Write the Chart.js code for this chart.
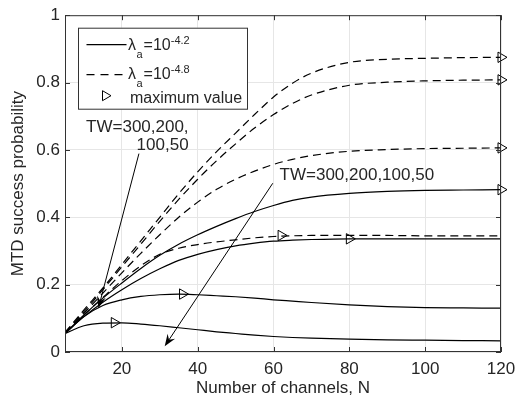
<!DOCTYPE html>
<html>
<head>
<meta charset="utf-8">
<script src="https://cdn.jsdelivr.net/npm/chart.js@4.4.1/dist/chart.umd.min.js"></script>
<style>
  html, body { margin: 0; padding: 0; background: #fff; }
</style>
</head>
<body>
<canvas id="c" width="525" height="402"></canvas>
<script>
// Data: MTD success probability vs number of channels
const nChannels = [5, 10, 15, 20, 25, 30, 35, 40, 45, 50, 55, 60, 65, 70, 80, 90, 100, 110, 120];

// lambda_a = 10^-4.8 (dashed), TW = 300, 200, 100, 50
const dashed300 = [0.058, 0.125, 0.19, 0.26, 0.33, 0.40, 0.47, 0.535, 0.595, 0.65, 0.705, 0.757, 0.798, 0.828, 0.86, 0.869, 0.872, 0.874, 0.875];
const dashed200 = [0.058, 0.12, 0.185, 0.253, 0.32, 0.388, 0.453, 0.513, 0.568, 0.618, 0.665, 0.705, 0.738, 0.763, 0.792, 0.801, 0.805, 0.807, 0.808];
const dashed100 = [0.057, 0.115, 0.175, 0.235, 0.293, 0.348, 0.4, 0.445, 0.483, 0.513, 0.537, 0.557, 0.572, 0.583, 0.596, 0.601, 0.604, 0.605, 0.606];
const dashed50  = [0.056, 0.11, 0.162, 0.212, 0.256, 0.29, 0.308, 0.319, 0.327, 0.333, 0.339, 0.343, 0.345, 0.346, 0.346, 0.346, 0.345, 0.345, 0.345];

// lambda_a = 10^-4.2 (solid), TW = 300, 200, 100, 50
const solid300 = [0.055, 0.11, 0.16, 0.205, 0.248, 0.287, 0.32, 0.348, 0.373, 0.396, 0.417, 0.435, 0.45, 0.46, 0.471, 0.477, 0.48, 0.481, 0.482];
const solid200 = [0.055, 0.105, 0.148, 0.185, 0.218, 0.247, 0.272, 0.29, 0.304, 0.315, 0.323, 0.329, 0.332, 0.334, 0.336, 0.336, 0.336, 0.336, 0.336];
const solid100 = [0.055, 0.105, 0.138, 0.155, 0.165, 0.17, 0.172, 0.17, 0.167, 0.164, 0.16, 0.155, 0.151, 0.147, 0.14, 0.135, 0.132, 0.131, 0.130];
const solid50  = [0.055, 0.078, 0.0855, 0.0865, 0.083, 0.078, 0.072, 0.066, 0.06, 0.055, 0.05, 0.046, 0.043, 0.041, 0.038, 0.036, 0.035, 0.034, 0.033];

// maximum value markers
const maxN = [120, 120, 120, 62, 120, 80, 36, 18];
const maxP = [0.875, 0.808, 0.606, 0.346, 0.482, 0.336, 0.172, 0.087];

const xTicks = [20, 40, 60, 80, 100, 120];
const yTicks = [0, 0.2, 0.4, 0.6, 0.8, 1];

const FONT = "'Liberation Sans', Arial, Helvetica, sans-serif";
const INK = '#262626';

// text labels and arrows, placed in data units
const notes = [
  { text: 'TW=300,200,', x: 37.6, y: 0.668, align: 'right' },
  { text: '100,50', x: 37.6, y: 0.614, align: 'right' },
  { text: 'TW=300,200,100,50', x: 61.6, y: 0.525, align: 'left' }
];
const arrows = [
  { from: [24.5, 0.589], to: [13.8, 0.13] },
  { from: [59.8, 0.501], to: [31.3, 0.017] }
];

function curve(vals, dashed) {
  return {
    data: nChannels.map((n, i) => ({ x: n, y: vals[i] })),
    showLine: true,
    borderColor: '#000',
    borderWidth: 1.2,
    borderDash: dashed ? [8, 5] : [],
    pointRadius: 0,
    cubicInterpolationMode: 'monotone',
    fill: false
  };
}

function arrow(ctx, x0, y0, x1, y1) {
  const ang = Math.atan2(y1 - y0, x1 - x0);
  const c = Math.cos(ang), s = Math.sin(ang);
  const L = 12, W = 4.5;
  ctx.beginPath();
  ctx.moveTo(x0, y0);
  ctx.lineTo(x1 - 6 * c, y1 - 6 * s);
  ctx.stroke();
  ctx.beginPath();
  ctx.moveTo(x1, y1);
  ctx.lineTo(x1 - L * c + W * s, y1 - L * s - W * c);
  ctx.lineTo(x1 - 0.65 * L * c, y1 - 0.65 * L * s);
  ctx.lineTo(x1 - L * c - W * s, y1 - L * s + W * c);
  ctx.closePath();
  ctx.fill();
}

function lambdaLabel(ctx, x, y, sup) {
  ctx.textAlign = 'left';
  ctx.textBaseline = 'alphabetic';
  ctx.font = `16px ${FONT}`;
  ctx.fillText('λ', x, y);
  x += ctx.measureText('λ').width + 0.5;
  ctx.font = `11px ${FONT}`;
  ctx.fillText('a', x, y + 8);
  x += ctx.measureText('a').width + 1;
  ctx.font = `16px ${FONT}`;
  ctx.fillText('=10', x, y);
  x += ctx.measureText('=10').width;
  ctx.font = `11px ${FONT}`;
  ctx.fillText(sup, x, y - 6);
}

function triangle(ctx, cx, cy) {
  ctx.beginPath();
  ctx.moveTo(cx + 4.5, cy);
  ctx.lineTo(cx - 4, cy - 5);
  ctx.lineTo(cx - 4, cy + 5);
  ctx.closePath();
  ctx.stroke();
}

const decor = {
  id: 'decor',
  afterDraw(chart) {
    const { ctx, chartArea: a, scales: { x, y } } = chart;
    ctx.save();

    // axes box and inward ticks
    ctx.strokeStyle = '#333';
    ctx.lineWidth = 1;
    ctx.strokeRect(a.left + 0.5, a.top + 0.5, a.right - a.left - 1, a.bottom - a.top - 1);
    ctx.beginPath();
    xTicks.forEach(v => {
      const px = Math.round(x.getPixelForValue(v)) + 0.5;
      ctx.moveTo(px, a.bottom); ctx.lineTo(px, a.bottom - 5);
      ctx.moveTo(px, a.top); ctx.lineTo(px, a.top + 5);
    });
    yTicks.forEach(v => {
      const py = Math.round(y.getPixelForValue(v)) + 0.5;
      ctx.moveTo(a.left, py); ctx.lineTo(a.left + 5, py);
      ctx.moveTo(a.right, py); ctx.lineTo(a.right - 5, py);
    });
    ctx.stroke();

    // annotations
    ctx.fillStyle = INK;
    ctx.font = `17px ${FONT}`;
    ctx.textBaseline = 'middle';
    notes.forEach(n => {
      ctx.textAlign = n.align;
      ctx.fillText(n.text, x.getPixelForValue(n.x), y.getPixelForValue(n.y));
    });
    ctx.strokeStyle = '#000';
    ctx.fillStyle = '#000';
    ctx.lineWidth = 1;
    arrows.forEach(r => {
      arrow(ctx, x.getPixelForValue(r.from[0]), y.getPixelForValue(r.from[1]),
        x.getPixelForValue(r.to[0]), y.getPixelForValue(r.to[1]));
    });

    // legend
    const lx = a.left + 13, ly = a.top + 12.5;
    ctx.fillStyle = '#fff';
    ctx.fillRect(lx, ly, 170, 82);
    ctx.strokeStyle = '#333';
    ctx.strokeRect(lx + 0.5, ly + 0.5, 169, 81);

    ctx.strokeStyle = '#000';
    ctx.lineWidth = 1.2;
    ctx.beginPath();
    ctx.moveTo(lx + 8.5, ly + 17); ctx.lineTo(lx + 48.5, ly + 17);
    ctx.stroke();
    ctx.setLineDash([8, 6]);
    ctx.beginPath();
    ctx.moveTo(lx + 8.5, ly + 47); ctx.lineTo(lx + 48.5, ly + 47);
    ctx.stroke();
    ctx.setLineDash([]);
    ctx.lineWidth = 1;
    triangle(ctx, lx + 28.5, ly + 68);

    ctx.fillStyle = INK;
    lambdaLabel(ctx, lx + 50, ly + 22, '-4.2');
    lambdaLabel(ctx, lx + 50, ly + 51, '-4.8');
    ctx.font = `16px ${FONT}`;
    ctx.textAlign = 'left';
    ctx.fillText('maximum value', lx + 52, ly + 75);

    ctx.restore();
  }
};

const datasets = [
  curve(solid300, false), curve(solid200, false), curve(solid100, false), curve(solid50, false),
  curve(dashed300, true), curve(dashed200, true), curve(dashed100, true), curve(dashed50, true),
  {
    data: maxN.map((n, i) => ({ x: n, y: maxP[i] })),
    showLine: false,
    clip: false,
    pointStyle: 'triangle',
    rotation: 90,
    pointRadius: 6,
    borderWidth: 1,
    borderColor: '#000',
    backgroundColor: 'rgba(0,0,0,0)'
  }
];

const axisFont = { size: 17, family: FONT };

new Chart(document.getElementById('c'), {
  type: 'scatter',
  data: { datasets },
  options: {
    responsive: false,
    animation: false,
    layout: { padding: { top: 9, right: 24, left: 0, bottom: 0 } },
    plugins: { legend: { display: false }, tooltip: { enabled: false } },
    scales: {
      x: {
        type: 'linear',
        min: 5,
        max: 120,
        afterBuildTicks: s => { s.ticks = xTicks.map(v => ({ value: v })); },
        afterFit: s => { s.height = 50; },
        grid: { color: '#e6e6e6', drawTicks: false },
        border: { display: false },
        ticks: { padding: 7, color: INK, font: axisFont, maxRotation: 0, callback: v => String(v) },
        title: { display: true, text: 'Number of channels, N', color: INK, font: axisFont, padding: { top: 0, bottom: 3 } }
      },
      y: {
        type: 'linear',
        min: 0,
        max: 1,
        afterBuildTicks: s => { s.ticks = yTicks.map(v => ({ value: v })); },
        afterFit: s => { s.width = 65; },
        grid: { color: '#e6e6e6', drawTicks: false },
        border: { display: false },
        ticks: { padding: 5, color: INK, font: axisFont, callback: v => String(v) },
        title: { display: true, text: 'MTD success probability', color: INK, font: axisFont, padding: { top: 8, bottom: 0 } }
      }
    }
  },
  plugins: [decor]
});
</script>
</body>
</html>
